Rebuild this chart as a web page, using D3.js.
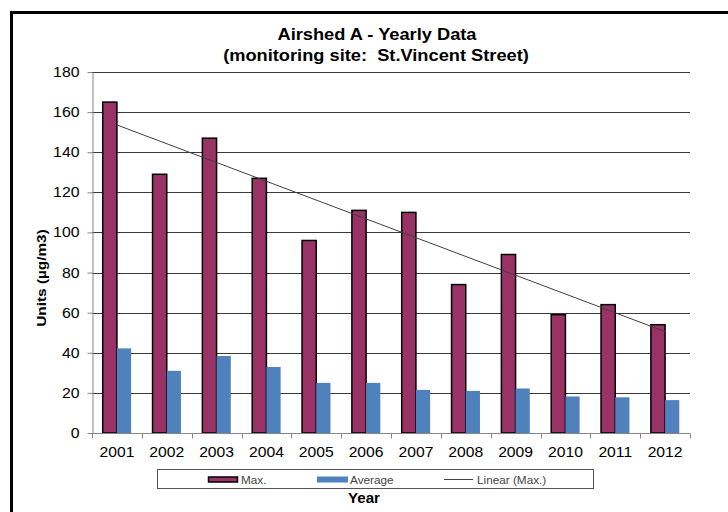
<!DOCTYPE html>
<html>
<head>
<meta charset="utf-8">
<script src="https://cdn.jsdelivr.net/npm/d3@7"></script>
<style>
  html, body { margin: 0; padding: 0; background: #fff; }
  svg text { font-family: "Liberation Sans", Arial, sans-serif; white-space: pre; }
</style>
</head>
<body>
<svg id="chart" width="728" height="512"></svg>
<script>
// ---- data ----
const years = ["2001","2002","2003","2004","2005","2006","2007","2008","2009","2010","2011","2012"];
const maxValues = [165, 129, 147, 127, 96, 111, 110, 74, 89, 59, 64, 54];
const avgValues = [42.2, 31, 38.4, 32.9, 25, 25, 21.5, 21, 22.2, 18.2, 17.8, 16.4];
const yTicks = [0, 20, 40, 60, 80, 100, 120, 140, 160, 180];
const seriesNames = ["Max.", "Average"];
const titleLines = ["Airshed A - Yearly Data", "(monitoring site:  St.Vincent Street)"];
const yLabel = "Units (µg/m3)";
const xLabel = "Year";
const trendName = "Linear (Max.)";

(function () {
const colors = { max: "#993366", avg: "#4f81bd" };

const svg = d3.select("#chart");

function stretch(sel, f) {
  sel.each(function () {
    const w = this.getComputedTextLength();
    if (w > 0) {
      d3.select(this).attr("textLength", w * f).attr("lengthAdjust", "spacingAndGlyphs");
    }
  });
}

// outer border
svg.append("rect")
  .attr("x", 11.5).attr("y", 12.5)
  .attr("width", 800).attr("height", 600)
  .attr("fill", "none").attr("stroke", "#000").attr("stroke-width", 3);

const pL = 92, pR = 690, pT = 72, pB = 433;

const x = d3.scaleBand().domain(years).range([pL, pR]).paddingInner(0.43).paddingOuter(0.215);
const xs = d3.scaleBand().domain(seriesNames).range([0, x.bandwidth()]);
const y = d3.scaleLinear().domain([0, 180]).range([pB, pT]);

// gridlines
svg.append("g").selectAll("line")
  .data(yTicks.filter(d => d > 0))
  .join("line")
  .attr("x1", pL).attr("x2", pR)
  .attr("y1", d => Math.round(y(d)) + 0.5).attr("y2", d => Math.round(y(d)) + 0.5)
  .attr("stroke", "#3a3a3a").attr("stroke-width", 1);

// bars
const g = svg.append("g");
g.selectAll("rect.max")
  .data(years.map((yr, i) => ({ yr, v: maxValues[i] })))
  .join("rect").attr("class", "max")
  .attr("x", d => x(d.yr) + xs("Max."))
  .attr("y", d => y(d.v))
  .attr("width", xs.bandwidth())
  .attr("height", d => y(0) - y(d.v))
  .attr("fill", colors.max).attr("stroke", "#000").attr("stroke-width", 1.5);

g.selectAll("rect.avg")
  .data(years.map((yr, i) => ({ yr, v: avgValues[i] })))
  .join("rect").attr("class", "avg")
  .attr("x", d => x(d.yr) + xs("Average"))
  .attr("y", d => y(d.v))
  .attr("width", xs.bandwidth())
  .attr("height", d => y(0) - y(d.v))
  .attr("fill", colors.avg);

// linear trend of Max (least squares)
const n = maxValues.length;
const idx = maxValues.map((_, i) => i + 1);
const mx = d3.mean(idx), my = d3.mean(maxValues);
const slope = d3.sum(idx.map((xi, i) => (xi - mx) * (maxValues[i] - my))) / d3.sum(idx.map(xi => (xi - mx) ** 2));
const icpt = my - slope * mx;
const cx = yr => x(yr) + x.bandwidth() / 2;
svg.append("line")
  .attr("x1", cx(years[0])).attr("y1", y(icpt + slope * 1))
  .attr("x2", cx(years[n - 1])).attr("y2", y(icpt + slope * n))
  .attr("stroke", "#404040").attr("stroke-width", 1);

// y axis
const yAxis = svg.append("g")
  .attr("transform", `translate(${pL + 0.5},0)`)
  .call(d3.axisLeft(y).tickValues(yTicks).tickSize(5).tickPadding(8).tickSizeOuter(0));
yAxis.select(".domain").attr("stroke", "#868686");
yAxis.selectAll(".tick line").attr("stroke", "#868686");
yAxis.selectAll("text").attr("font-size", 14).attr("fill", "#000").attr("font-family", "Liberation Sans, Arial, sans-serif");

// x axis
const xAxis = svg.append("g")
  .attr("transform", `translate(0,${pB + 0.5})`)
  .call(d3.axisBottom(x).tickSize(0).tickPadding(14).tickSizeOuter(0));
xAxis.select(".domain").attr("stroke", "#868686").attr("d", `M${pL},0H${pR}`);
xAxis.selectAll("text").attr("font-size", 14).attr("fill", "#000").attr("font-family", "Liberation Sans, Arial, sans-serif");
// category boundary ticks
xAxis.append("g").selectAll("line")
  .data(d3.range(years.length + 1))
  .join("line")
  .attr("x1", i => Math.round(pL + i * x.step()) + 0.5)
  .attr("x2", i => Math.round(pL + i * x.step()) + 0.5)
  .attr("y1", 0).attr("y2", 5)
  .attr("stroke", "#868686");

stretch(yAxis.selectAll("text"), 1.13);
stretch(xAxis.selectAll("text"), 1.12);

// titles
const t = svg.append("g").attr("font-weight", "bold").attr("font-size", 16).attr("fill", "#000").attr("text-anchor", "middle");
t.append("text").attr("x", 377).attr("y", 40).text(titleLines[0]);
t.append("text").attr("x", 376).attr("y", 61).text(titleLines[1]);
stretch(t.selectAll("text"), 1.14);

// y label
const yl = svg.append("text")
  .attr("transform", "translate(46,278) rotate(-90)")
  .attr("text-anchor", "middle").attr("font-weight", "bold").attr("font-size", 13)
  .text(yLabel);
stretch(yl, 1.18);

// x label
const xl = svg.append("text")
  .attr("x", 364).attr("y", 503)
  .attr("text-anchor", "middle").attr("font-weight", "bold").attr("font-size", 14)
  .text(xLabel);
stretch(xl, 1.08);

// legend
const lg = svg.append("g");
lg.append("rect").attr("x", 157.5).attr("y", 469.5).attr("width", 436).attr("height", 19)
  .attr("fill", "#fff").attr("stroke", "#555").attr("stroke-width", 1);
lg.append("rect").attr("x", 208.5).attr("y", 477).attr("width", 29).attr("height", 5)
  .attr("fill", colors.max).attr("stroke", "#000").attr("stroke-width", 1.5);
lg.append("rect").attr("x", 317).attr("y", 476.5).attr("width", 31).attr("height", 6)
  .attr("fill", colors.avg);
lg.append("line").attr("x1", 444).attr("x2", 473).attr("y1", 479.5).attr("y2", 479.5)
  .attr("stroke", "#404040").attr("stroke-width", 1);
const lt = lg.selectAll("text.lt")
  .data([{ t: seriesNames[0], x: 241 }, { t: seriesNames[1], x: 350 }, { t: trendName, x: 477 }])
  .join("text").attr("class", "lt")
  .attr("x", d => d.x).attr("y", 483.5)
  .attr("font-size", 10.5).attr("fill", "#444")
  .text(d => d.t);
stretch(lt, 1.12);
})();
</script>
</body>
</html>
